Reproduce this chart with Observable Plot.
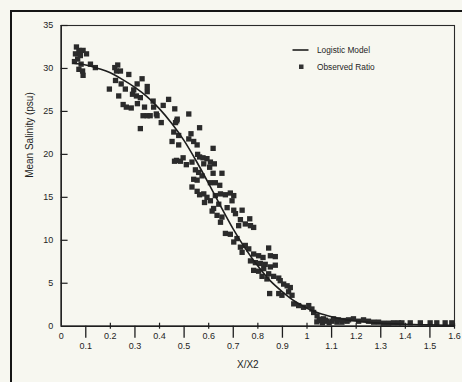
<!DOCTYPE html>
<html><head><meta charset="utf-8">
<script src="https://cdn.jsdelivr.net/npm/d3@7"></script>
<script src="https://cdn.jsdelivr.net/npm/@observablehq/plot@0.6"></script>
<style>
html,body{margin:0;padding:0;background:#f7f7f0;}
#wrap{position:relative;width:462px;height:382px;overflow:hidden;background:#f7f7f0;}
#border{position:absolute;left:10px;top:10px;width:480px;height:400px;border-left:2px solid #151515;border-top:2px solid #151515;box-sizing:border-box;pointer-events:none;}
</style></head><body>
<div id="wrap"><div id="chart"></div><div id="border"></div></div>
<script>
// Observed ratio (X/X2, mean salinity psu)
const ratioX = [
0.062,0.072,0.089,0.058,0.078,0.103,0.067,0.054,0.081,0.072,0.087,0.089,0.119,0.139,
0.196,0.218,0.230,0.225,0.241,0.275,0.221,0.244,0.261,0.234,
0.252,0.265,0.285,0.295,0.309,0.329,0.350,0.350,0.306,0.322,
0.339,0.333,0.350,0.374,0.376,0.387,0.415,0.407,0.437,0.322,
0.462,0.472,0.519,0.290,0.310,0.390,0.362,0.470,
0.465,0.563,0.451,0.478,0.528,0.519,0.539,0.553,0.618,0.555,
0.563,0.469,0.461,0.496,0.485,0.509,0.532,0.577,0.593,0.607,
0.623,0.580,0.604,0.546,0.559,0.573,0.539,0.553,0.618,0.654,
0.607,0.627,0.645,0.532,0.553,0.563,0.458,0.478,
0.580,0.593,0.583,0.607,0.627,0.648,0.668,0.688,0.702,0.695,
0.641,0.620,0.614,0.634,0.654,0.648,0.675,0.702,0.709,0.736,
0.767,0.729,0.749,0.722,0.770,0.783,0.668,0.688,0.702,0.715,
0.729,0.749,0.736,0.763,0.783,0.803,0.844,0.851,0.871,0.821,
0.770,0.790,0.810,0.830,0.783,0.803,0.824,0.851,0.871,0.844,
0.864,0.885,0.817,0.837,
0.891,0.905,0.919,0.932,0.848,0.885,0.898,0.925,0.939,0.946,
0.966,0.986,1.007,1.020,1.027,1.041,1.054,1.067,1.081,1.102,
1.122,1.142,1.163,
1.040,1.050,1.063,1.075,1.090,
1.108,1.128,1.149,1.169,1.189,1.210,1.230,1.250,1.271,1.291,
1.311,1.332,1.352,1.372,1.386,1.420,1.461,1.501,1.528,1.562,1.589
];
const ratioY = [
32.5,32.1,32.1,31.7,31.5,31.7,31.1,30.8,30.5,29.9,29.7,29.2,30.5,30.1,
27.6,30.1,30.4,29.7,29.7,29.3,28.6,28.2,27.6,26.8,
25.8,25.5,25.4,27.5,28.2,28.8,27.9,27.3,26.8,26.6,
25.5,24.5,24.5,26.2,25.5,24.7,25.7,23.7,26.4,23.0,
25.3,24.1,24.7,27.0,25.9,24.5,24.5,23.9,
23.7,23.1,21.5,21.1,22.4,21.8,21.5,21.1,20.7,20.0,
19.7,19.3,19.2,19.6,19.2,18.8,19.1,19.6,19.5,19.1,
18.9,18.9,18.5,18.2,17.9,17.5,17.1,17.0,17.8,17.8,
16.7,16.7,16.4,16.2,15.7,15.3,22.6,22.2,
15.4,15.0,14.4,14.6,15.2,15.4,15.3,15.5,15.2,14.6,
14.2,13.7,13.4,12.9,12.7,12.1,13.8,13.5,13.1,13.5,
12.5,12.4,11.9,11.7,11.7,11.5,10.8,10.7,9.8,10.2,
9.2,9.4,8.6,9.0,8.4,8.2,9.1,8.2,8.1,8.0,
7.6,7.4,7.3,7.2,6.5,6.4,6.7,6.9,7.1,6.1,
5.8,5.6,5.8,5.5,
5.3,4.9,4.7,4.5,3.8,3.8,3.6,4.0,3.6,2.6,
2.4,2.2,2.4,2.0,1.6,1.2,0.66,0.86,0.58,0.58,
0.47,0.47,0.58,
0.5,0.8,0.4,0.7,0.4,
0.86,0.74,0.66,0.74,0.86,0.58,0.74,0.58,0.47,0.47,
0.35,0.35,0.39,0.39,0.39,0.39,0.39,0.39,0.39,0.39,0.39
];
// Logistic model curve
const modelX = [0.05,0.1,0.15,0.2,0.25,0.3,0.35,0.4,0.45,0.5,0.55,0.6,0.65,0.7,0.75,0.8,0.85,0.9,0.95,1.0,1.05,1.1,1.15,1.2,1.25,1.3,1.4,1.5,1.6];
const modelY = [30.6,30.4,30.0,29.5,28.7,27.8,26.7,25.3,23.6,21.6,19.2,16.6,13.9,11.3,9.0,7.0,5.3,4.0,2.9,2.1,1.5,1.1,0.8,0.6,0.45,0.35,0.22,0.15,0.1];

const yTicks = [0,5,10,15,20,25,30,35];
const xTicksUpper = [0,0.2,0.4,0.6,0.8,1.0,1.2,1.4,1.6];
const xLabelsUpper = ["0","0.2","0.4","0.6","0.8","1","1.2","1.4","1.6"];
const xTicksLower = [0.1,0.3,0.5,0.7,0.9,1.1,1.3,1.5];
const xLabelsLower = ["0.1","0.3","0.5","0.7","0.9","1.1","1.3","1.5"];
const legendLabels = ["Logistic Model","Observed Ratio"];

const observed = ratioX.map((x,i)=>({x, y: ratioY[i]}));
const model = modelX.map((x,i)=>({x, y: modelY[i]}));
const ink = "#1e1e1e";
const font = "'Liberation Sans', Arial, Helvetica, sans-serif";

const legendMark = () => {
  const g = d3.create("svg:g");
  g.append("line").attr("x1",292.5).attr("x2",308.5).attr("y1",50).attr("y2",50)
    .attr("stroke",ink).attr("stroke-width",1.6);
  g.append("rect").attr("x",299).attr("y",64.5).attr("width",4.5).attr("height",4.5).attr("fill","#333");
  g.append("text").attr("x",317).attr("y",50).attr("dy","0.35em").attr("text-anchor","start").attr("font-size",8.3).attr("fill",ink).text(legendLabels[0]);
  g.append("text").attr("x",317).attr("y",66.8).attr("dy","0.35em").attr("text-anchor","start").attr("font-size",8.3).attr("fill",ink).text(legendLabels[1]);
  return g.node();
};

const chart = Plot.plot({
  width: 462, height: 382,
  marginLeft: 60.7, marginRight: 8, marginTop: 25, marginBottom: 56.3,
  x: {domain: [0, 1.6], axis: null},
  y: {domain: [0, 35], axis: null},
  style: {background: "transparent", fontFamily: font, color: ink},
  marks: [
    Plot.frame({stroke: "#2a2a2a", strokeWidth: 1.1}),
    Plot.ruleY([0], {stroke: ink, strokeWidth: 1.6}),
    Plot.ruleX([0], {stroke: ink, strokeWidth: 1.4}),
    Plot.ruleY(yTicks.slice(1), {x1: 0, x2: 0.028, stroke: ink, strokeWidth: 1.2}),
    Plot.text(yTicks, {x: 0, y: d => d, text: d => String(d), textAnchor: "end", dx: -8, fontSize: 9, fill: ink}),
    Plot.ruleX(xTicksLower, {y1: 0, y2: -1.4, stroke: ink, strokeWidth: 1.3}),
    Plot.ruleX(xTicksUpper.slice(1), {y1: -0.35, y2: 0.35, stroke: ink, strokeWidth: 1.2}),
    Plot.text(xTicksUpper, {x: d => d, y: 0, text: (d,i) => xLabelsUpper[i], dy: 9.5, fontSize: 9, fill: ink}),
    Plot.text(xTicksLower, {x: d => d, y: 0, text: (d,i) => xLabelsLower[i], dy: 19.5, fontSize: 9, fill: ink}),
    Plot.text(["X/X2"], {frameAnchor: "bottom", dx: -10, dy: 42, text: d => d, fontSize: 10, fill: ink}),
    Plot.text(["Mean Salinity (psu)"], {frameAnchor: "left", rotate: -90, dx: -31, dy: 2, text: d => d, fontSize: 10, fill: ink}),
    Plot.dot(observed, {x: "x", y: "y", symbol: "square", r: 3, fill: "#2b2b2b", stroke: "none"}),
    Plot.line(model, {x: "x", y: "y", stroke: ink, strokeWidth: 1.6, curve: "monotone-x"}),
    legendMark
  ]
});
document.getElementById("chart").appendChild(chart);
</script>
</body></html>
